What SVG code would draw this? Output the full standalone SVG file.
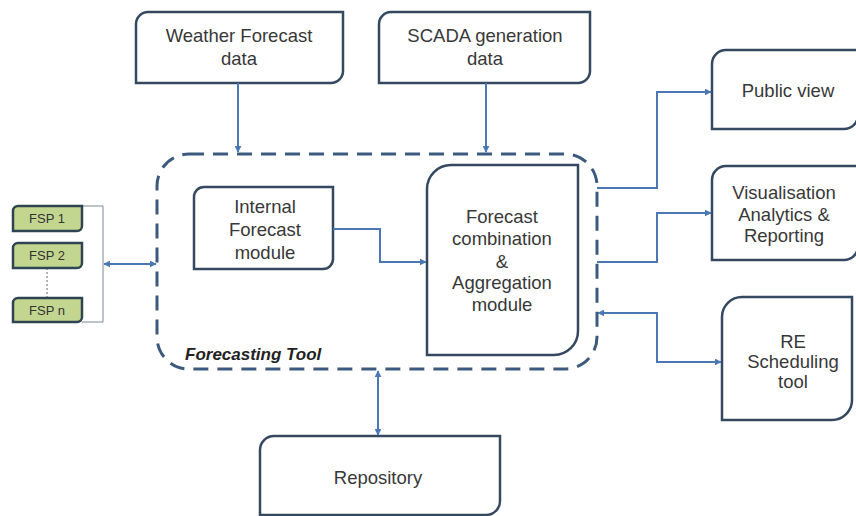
<svg xmlns="http://www.w3.org/2000/svg" width="856" height="516" viewBox="0 0 856 516">
<defs>
<marker id="ah" viewBox="0 0 10 10" refX="9" refY="5" markerWidth="7" markerHeight="7" markerUnits="userSpaceOnUse" orient="auto-start-reverse">
<path d="M0,0 L10,5 L0,10 Z" fill="#4a78b5"/>
</marker>
<style>
.box{fill:#fff;stroke:#344860;stroke-width:2.5}
.fsp{fill:#c3d690;stroke:#2f4350;stroke-width:2.5}
.t{font-family:"Liberation Sans",Arial,sans-serif;font-size:18.5px;fill:#383838;text-anchor:middle}
.ft{font-family:"Liberation Sans",Arial,sans-serif;font-size:13px;fill:#333;text-anchor:middle}
.c{fill:none;stroke:#4a78b5;stroke-width:2}
</style>
</defs>
<rect width="856" height="516" fill="#fff"/>
<g id="forecasting-tool">
<rect x="157" y="154" width="440" height="215" rx="32" fill="none" stroke="#3c5a7e" stroke-width="3" stroke-dasharray="15 9"/>
<text x="185" y="360" font-family="'Liberation Sans',Arial,sans-serif" font-size="17" font-weight="bold" font-style="italic" fill="#222">Forecasting Tool</text>
</g>
<g id="weather">
<path class="box" d="M136,24 A12,12 0 0 1 148,12 H343 V71 A12,12 0 0 1 331,83 H136 Z"/>
<text class="t" x="239" y="42">Weather Forecast</text>
<text class="t" x="239" y="65">data</text>
</g>
<g id="scada">
<path class="box" d="M379,24 A12,12 0 0 1 391,12 H590 V71 A12,12 0 0 1 578,83 H379 Z"/>
<text class="t" x="485" y="42">SCADA generation</text>
<text class="t" x="485" y="65">data</text>
</g>
<g id="internal">
<path class="box" d="M194,197 A10,10 0 0 1 204,187 H333 V259 A10,10 0 0 1 323,269 H194 Z"/>
<text class="t" x="265" y="213">Internal</text>
<text class="t" x="265" y="236">Forecast</text>
<text class="t" x="265" y="259">module</text>
</g>
<g id="combination">
<path class="box" d="M427,189 A24,24 0 0 1 451,165 H578 V331 A24,24 0 0 1 554,355 H427 Z"/>
<text class="t" x="502" y="223">Forecast</text>
<text class="t" x="502" y="245">combination</text>
<text class="t" x="502" y="268">&amp;</text>
<text class="t" x="502" y="289">Aggregation</text>
<text class="t" x="502" y="311">module</text>
</g>
<g id="public">
<path class="box" d="M712,64 A14,14 0 0 1 726,50 H858 V115 A14,14 0 0 1 844,129 H712 Z"/>
<text class="t" x="788" y="97">Public view</text>
</g>
<g id="visualisation">
<path class="box" d="M712,180 A14,14 0 0 1 726,166 H858 V246 A14,14 0 0 1 844,260 H712 Z"/>
<text class="t" x="784" y="199">Visualisation</text>
<text class="t" x="784" y="221">Analytics &amp;</text>
<text class="t" x="784" y="242">Reporting</text>
</g>
<g id="re-scheduling">
<path class="box" d="M722,317 A20,20 0 0 1 742,297 H852 V400 A20,20 0 0 1 832,420 H722 Z"/>
<text class="t" x="793" y="348">RE</text>
<text class="t" x="793" y="368">Scheduling</text>
<text class="t" x="793" y="388">tool</text>
</g>
<g id="repository">
<path class="box" d="M260,450 A14,14 0 0 1 274,436 H500 V501 A14,14 0 0 1 486,515 H260 Z"/>
<text class="t" x="378" y="484">Repository</text>
</g>
<g id="fsp">
<path d="M82,206 H103 V322 H82" fill="none" stroke="#7a8594" stroke-width="1"/>
<line x1="47" y1="268" x2="47" y2="298" stroke="#666" stroke-width="1" stroke-dasharray="2 2"/>
<g id="fsp1">
<path class="fsp" d="M13,211 A5,5 0 0 1 18,206 H82 V226 A5,5 0 0 1 77,231 H13 Z"/>
<text class="ft" x="47" y="223">FSP 1</text>
</g>
<g id="fsp2">
<path class="fsp" d="M13,248 A5,5 0 0 1 18,243 H82 V263 A5,5 0 0 1 77,268 H13 Z"/>
<text class="ft" x="47" y="260">FSP 2</text>
</g>
<g id="fspn">
<path class="fsp" d="M13,303 A5,5 0 0 1 18,298 H82 V317 A5,5 0 0 1 77,322 H13 Z"/>
<text class="ft" x="47" y="315">FSP n</text>
</g>
</g>
<g id="connectors">
<line class="c" x1="238" y1="83" x2="238" y2="152" marker-end="url(#ah)"/>
<line class="c" x1="486" y1="83" x2="486" y2="152" marker-end="url(#ah)"/>
<path class="c" d="M333,229 H380 V262 H426" marker-end="url(#ah)"/>
<path class="c" d="M597,188 H657 V92 H711" marker-end="url(#ah)"/>
<path class="c" d="M597,262 H657 V213 H711" marker-end="url(#ah)"/>
<path class="c" d="M598,313 H657 V362 H721" marker-start="url(#ah)" marker-end="url(#ah)"/>
<line class="c" x1="104" y1="264" x2="156" y2="264" marker-start="url(#ah)" marker-end="url(#ah)"/>
<line class="c" x1="378" y1="371" x2="378" y2="435" marker-start="url(#ah)" marker-end="url(#ah)"/>
</g>
</svg>
